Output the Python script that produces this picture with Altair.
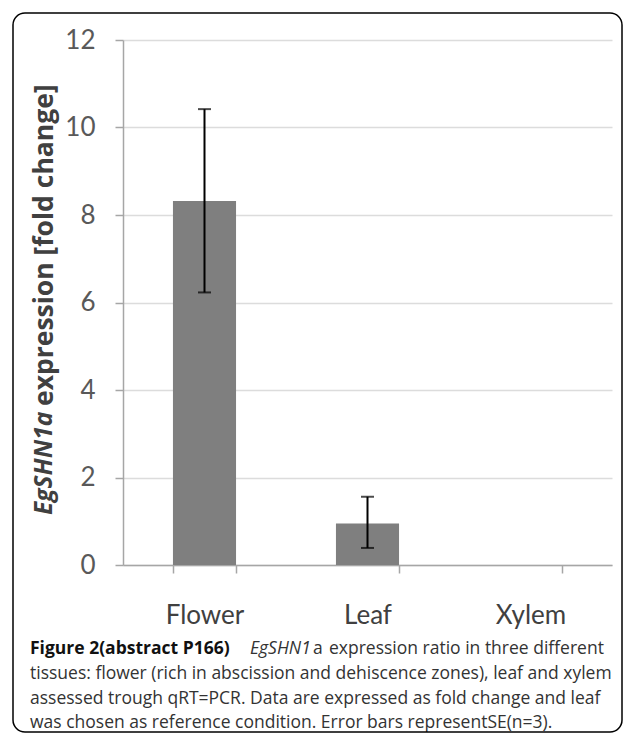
import altair as alt
import pandas as pd

# ---- data ----
categories = ["Flower", "Leaf", "Xylem"]
means = [8.32, 0.95, 0.0]
err_categories = ["Flower", "Leaf"]
err_upper = [10.42, 1.56]
err_lower = [6.23, 0.39]
y_ticks = [0, 2, 4, 6, 8, 10, 12]

title_italic = "EgSHN1a"
title_rest = "expression [fold change]"
cap1_bold = "Figure 2(abstract P166)"
cap1_italic = "EgSHN1"
cap1_a = "a"
cap1_rest = "expression ratio in three different"
cap2 = "tissues: flower (rich in abscission and dehiscence zones), leaf and xylem"
cap3 = "assessed trough qRT=PCR. Data are expressed as fold change and leaf"
cap4 = "was chosen as reference condition. Error bars representSE(n=3)."

bars_df = pd.DataFrame({"tissue": categories, "value": means})
err_df = pd.DataFrame({"tissue": err_categories, "upper": err_upper, "lower": err_lower})
one = pd.DataFrame({"k": [0]})

W, H = 489, 525
xscale = alt.Scale(domain=categories, paddingInner=0.613, paddingOuter=0.3065)
yscale = alt.Scale(domain=[0, 12], nice=False, zero=True)

axis_gray = "#a6a6a6"

bars = alt.Chart(bars_df).mark_bar(color="#7f7f7f").encode(
    x=alt.X("tissue:N", scale=xscale, sort=categories,
            axis=alt.Axis(title=None, labelAngle=0, labelFont="Lato", labelFontSize=26,
                          labelColor="#404040", labelPadding=29, tickBand="extent",
                          tickSize=8, tickColor=axis_gray, tickWidth=1.5,
                          domainColor=axis_gray, domainWidth=1.5, grid=False)),
    y=alt.Y("value:Q", scale=yscale,
            axis=alt.Axis(title=None, values=y_ticks, labelFont="Lato", labelFontSize=26,
                          labelColor="#595959", labelPadding=20, tickSize=8,
                          tickColor=axis_gray, tickWidth=1.5, domainColor=axis_gray,
                          domainWidth=1.5, grid=True, gridColor="#dcdcdc", gridWidth=1.5)),
)

err_rule = alt.Chart(err_df).mark_rule(color="black", strokeWidth=2).encode(
    x=alt.X("tissue:N", scale=xscale, sort=categories),
    y=alt.Y("lower:Q", scale=yscale),
    y2="upper:Q",
)
cap_hi = alt.Chart(err_df).mark_tick(color="black", thickness=2, size=13, orient="horizontal").encode(
    x=alt.X("tissue:N", scale=xscale, sort=categories),
    y=alt.Y("upper:Q", scale=yscale),
)
cap_lo = alt.Chart(err_df).mark_tick(color="black", thickness=2, size=13, orient="horizontal").encode(
    x=alt.X("tissue:N", scale=xscale, sort=categories),
    y=alt.Y("lower:Q", scale=yscale),
)


def label(text, x, y, size, weight="normal", style="normal", angle=0, font="Open Sans",
          color="#222222", align="left"):
    return alt.Chart(one).mark_text(
        text=text, font=font, fontSize=size, fontWeight=weight, fontStyle=style,
        angle=angle, align=align, baseline="middle", color=color,
    ).encode(x=alt.value(x), y=alt.value(y))


ytitle1 = label(title_italic, -78, 475, 24.5, weight="bold", style="italic", angle=270,
                color="#404040")
ytitle2 = label(title_rest, -78, 366, 26.5, weight="bold", angle=270, color="#404040")

CS = 17.5
c1a = label(cap1_bold, -93, 609, CS, weight="bold", color="#111111")
c1b = label(cap1_italic, 127, 609, CS, style="italic", color="#333333")
c1c = label(cap1_a, 190, 609, CS, color="#333333")
c1d = label(cap1_rest, 206, 609, CS, color="#333333")
c2 = label(cap2, -93, 634, CS, color="#333333")
c3 = label(cap3, -93, 659, CS, color="#333333")
c4 = label(cap4, -93, 683, CS, color="#333333")

border = alt.Chart(one).mark_rect(
    fillOpacity=0, stroke="black", strokeWidth=1.5, cornerRadius=12
).encode(x=alt.value(-110), x2=alt.value(499), y=alt.value(-27), y2=alt.value(692))

chart = alt.layer(
    bars, err_rule, cap_hi, cap_lo, ytitle1, ytitle2, c1a, c1b, c1c, c1d, c2, c3, c4, border
).properties(
    width=W, height=H,
    autosize=alt.AutoSizeParams(type="none"),
    padding={"left": 115, "top": 32, "right": 12, "bottom": 169},
    background="white",
).configure_view(stroke=None)

chart.save("out.html", embed_options={"renderer": "svg", "actions": False})
